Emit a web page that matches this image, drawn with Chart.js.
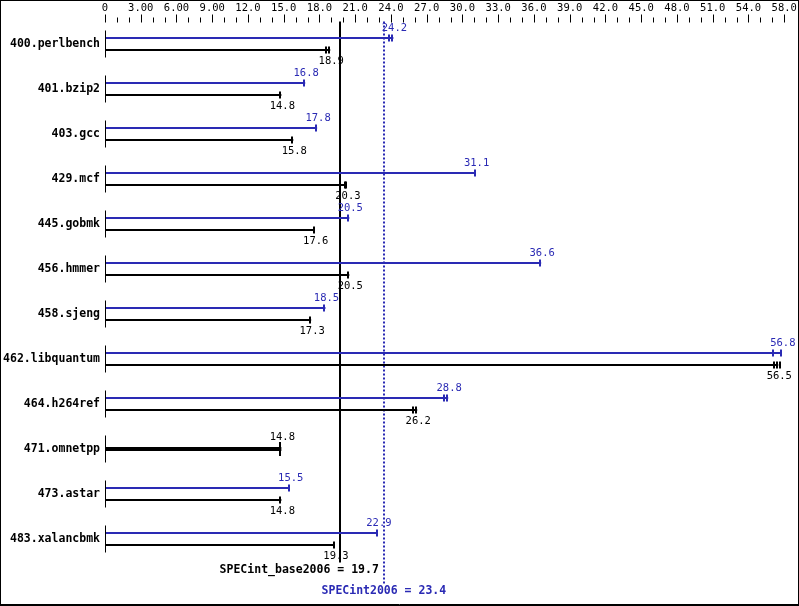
<!DOCTYPE html>
<html>
<head>
<meta charset="utf-8">
<script src="https://cdn.jsdelivr.net/npm/chart.js@4.4.0/dist/chart.umd.min.js"></script>
<style>
  html, body { margin: 0; padding: 0; background: #fff; }
  #wrap { width: 799px; height: 606px; }
</style>
</head>
<body>
<div id="wrap"><canvas id="spec-chart" width="799" height="606"></canvas></div>
<script>
// Benchmarks and ratios (peak = blue, base = black)
const benchmarks = ["400.perlbench", "401.bzip2", "403.gcc", "429.mcf", "445.gobmk", "456.hmmer",
  "458.sjeng", "462.libquantum", "464.h264ref", "471.omnetpp", "473.astar", "483.xalancbmk"];
const peakScores = [24.2, 16.8, 17.8, 31.1, 20.5, 36.6, 18.5, 56.8, 28.8, null, 15.5, 22.9];
const baseScores = [18.9, 14.8, 15.8, 20.3, 17.6, 20.5, 17.3, 56.5, 26.2, 14.8, 14.8, 19.3];

// Individual run results (tick marks near the bar ends)
const peakRuns = [[23.9, 24.2], [16.8], [17.8], [31.1], [20.5], [36.6], [18.5], [56.1, 56.8], [28.5, 28.8], [], [15.5], [22.9]];
const baseRuns = [[18.6, 18.9], [14.8], [15.8], [20.2, 20.3], [17.6], [20.5], [17.3], [56.2, 56.5, 56.7], [25.9, 26.2], [14.8], [14.8], [19.3]];

// Overall results
const peakMean = 23.4;
const baseMean = 19.7;
const peakMeanLabel = "SPECint2006 = 23.4";
const baseMeanLabel = "SPECint_base2006 = 19.7";

// Axis
const axisMax = 57.4;
const tickValues = [0, 3, 6, 9, 12, 15, 18, 21, 24, 27, 30, 33, 36, 39, 42, 45, 48, 51, 54, 57];
const tickLabels = ["0", "3.00", "6.00", "9.00", "12.0", "15.0", "18.0", "21.0", "24.0", "27.0",
  "30.0", "33.0", "36.0", "39.0", "42.0", "45.0", "48.0", "51.0", "54.0", "58.0"];

const BLUE = "#2a2ab4";
const MONO = '"DejaVu Sans Mono", "Liberation Mono", monospace';

// Draws everything that is not a bar: frame, axis ticks, caps, labels, mean lines
const overlay = {
  id: "overlay",
  beforeDatasetsDraw(chart) {
    const { ctx, chartArea: a, scales: { x } } = chart;
    ctx.save();
    ctx.lineWidth = 2;
    // base mean: solid black
    const bx = Math.round(x.getPixelForValue(baseMean));
    ctx.strokeStyle = "#000";
    ctx.beginPath();
    ctx.moveTo(bx, a.top);
    ctx.lineTo(bx, a.bottom + 1);
    ctx.stroke();
    // peak mean: dotted blue
    const px = Math.round(x.getPixelForValue(peakMean));
    ctx.strokeStyle = BLUE;
    ctx.setLineDash([2, 2]);
    ctx.beginPath();
    ctx.moveTo(px, a.top);
    ctx.lineTo(px, a.bottom + 22);
    ctx.stroke();
    ctx.restore();
  },
  afterDatasetsDraw(chart) {
    const { ctx, chartArea: a, scales: { x, y } } = chart;
    ctx.save();

    // axis tick marks: every unit, tall ones under labels
    ctx.strokeStyle = "#000";
    ctx.lineWidth = 1;
    for (let v = 0; v <= Math.floor(axisMax); v++) {
      const tx = Math.round(x.getPixelForValue(v)) + 0.5;
      const tall = tickValues.includes(v);
      ctx.beginPath();
      ctx.moveTo(tx, tall ? a.top - 7 : a.top - 4);
      ctx.lineTo(tx, a.top + 1);
      ctx.stroke();
    }

    // small vertical line at zero for every benchmark
    const x0 = Math.round(x.getPixelForValue(0)) + 0.5;
    benchmarks.forEach((b, i) => {
      const cy = y.getPixelForValue(i);
      ctx.beginPath();
      ctx.moveTo(x0, cy - 13.5);
      ctx.lineTo(x0, cy + 13.5);
      ctx.stroke();
    });

    // run caps and value labels
    const peakMeta = chart.getDatasetMeta(0);
    const baseMeta = chart.getDatasetMeta(1);
    ctx.font = "10.5px " + MONO;
    ctx.textAlign = "center";
    ctx.textBaseline = "middle";
    benchmarks.forEach((b, i) => {
      const single = peakScores[i] === null;
      if (!single) {
        const bar = peakMeta.data[i];
        ctx.fillStyle = BLUE;
        peakRuns[i].forEach(r => {
          const rx = Math.round(x.getPixelForValue(r));
          ctx.fillRect(rx - 2, bar.y - 3.5, 2, 7);
        });
        ctx.fillText(peakScores[i].toFixed(1), x.getPixelForValue(peakScores[i]) + 1, bar.y - 10);
      }
      const bar = baseMeta.data[i];
      ctx.fillStyle = "#000";
      const h = single ? 14 : 7;
      baseRuns[i].forEach(r => {
        const rx = Math.round(x.getPixelForValue(r));
        ctx.fillRect(rx - 2, bar.y - h / 2, 2, h);
      });
      ctx.fillText(baseScores[i].toFixed(1), x.getPixelForValue(baseScores[i]) + 1,
        single ? bar.y - 12 : bar.y + 11);
    });

    // mean labels under the chart
    ctx.font = "bold 11.5px " + MONO;
    const px = x.getPixelForValue(peakMean);
    ctx.fillStyle = "#000";
    ctx.textAlign = "right";
    ctx.fillText(baseMeanLabel, px - 5, a.bottom + 9);
    ctx.fillStyle = BLUE;
    ctx.textAlign = "center";
    ctx.fillText(peakMeanLabel, px, a.bottom + 30);

    // frame
    ctx.strokeStyle = "#000";
    ctx.lineWidth = 1;
    ctx.strokeRect(0.5, 0.5, chart.width - 1, chart.height - 1);
    ctx.beginPath();
    ctx.moveTo(0, chart.height - 1.5);
    ctx.lineTo(chart.width, chart.height - 1.5);
    ctx.stroke();
    ctx.restore();
  }
};

const ctx = document.getElementById("spec-chart").getContext("2d");
const specChart = new Chart(ctx, {
  type: "bar",
  data: {
    labels: benchmarks,
    datasets: [
      {
        label: "Peak",
        data: peakScores,
        backgroundColor: BLUE,
        skipNull: true,
        inflateAmount: 0,
        barPercentage: 1 / 6,
        categoryPercentage: 24 / 45,
      },
      {
        label: "Base",
        data: baseScores,
        backgroundColor: "#000",
        skipNull: true,
        inflateAmount: 0,
        barPercentage: 1 / 6,
        categoryPercentage: 24 / 45,
      },
    ],
  },
  options: {
    indexAxis: "y",
    responsive: false,
    animation: false,
    events: [],
    layout: { padding: { left: 0, right: 10, top: 0, bottom: 44.5 } },
    plugins: { legend: { display: false }, tooltip: { enabled: false } },
    scales: {
      x: {
        type: "linear",
        position: "top",
        min: 0,
        max: axisMax,
        grid: { display: false, drawTicks: false },
        border: { display: false },
        afterBuildTicks: s => { s.ticks = tickValues.map(v => ({ value: v })); },
        afterFit: s => { s.height = 21.5; s.paddingLeft = 0; s.paddingRight = 0; },
        ticks: {
          autoSkip: false,
          maxRotation: 0,
          padding: 7,
          color: "#000",
          font: { family: MONO, size: 10.5 },
          callback: (v, i) => tickLabels[i],
        },
      },
      y: {
        type: "category",
        grid: { display: false, drawTicks: false },
        border: { display: false },
        afterFit: s => { s.width = 105; },
        ticks: {
          padding: 5,
          color: "#000",
          font: { family: MONO, size: 11.5, weight: "bold" },
        },
      },
    },
  },
  plugins: [overlay],
});
</script>
</body>
</html>
